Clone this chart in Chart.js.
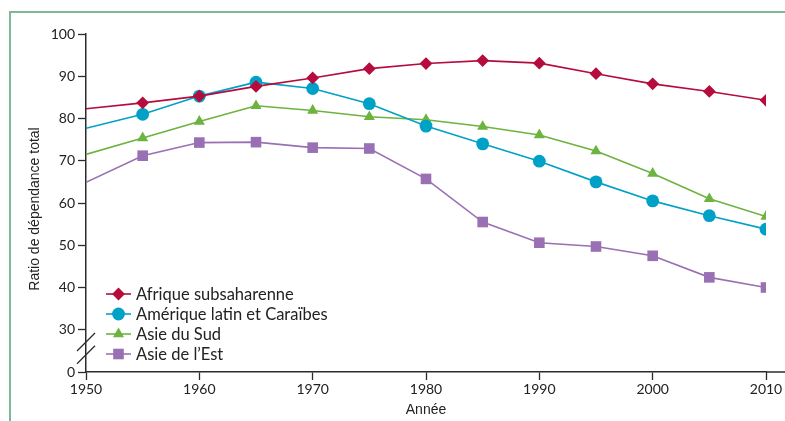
<!DOCTYPE html>
<html>
<head>
  <meta charset="utf-8">
  <script src="https://cdn.jsdelivr.net/npm/chart.js@4.4.1/dist/chart.umd.min.js"></script>
  <style>
    body { margin: 0; background: #fff; }
    #wrap { position: relative; width: 785px; height: 421px; }
    #frame { position: absolute; left: 9px; top: 11px; right: 0; bottom: 0;
             border-top: 2px solid #7db999; border-left: 2px solid #7db999; }
    canvas { position: absolute; left: 0; top: 0; }
  </style>
</head>
<body>
<div id="wrap">
  <div id="frame"></div>
  <canvas id="ratio-chart" width="785" height="421"></canvas>
</div>
<script>
  var years = [1950, 1955, 1960, 1965, 1970, 1975, 1980, 1985, 1990, 1995, 2000, 2005, 2010];
  var afrique = [82.3, 83.7, 85.3, 87.6, 89.6, 91.8, 93.0, 93.7, 93.1, 90.6, 88.2, 86.4, 84.3];
  var amerique = [77.7, 81.0, 85.3, 88.6, 87.1, 83.5, 78.2, 74.0, 69.9, 65.0, 60.5, 57.0, 53.8];
  var asieSud = [71.5, 75.4, 79.3, 83.0, 81.9, 80.4, 79.7, 78.1, 76.1, 72.3, 67.0, 61.0, 56.8];
  var asieEst = [64.9, 71.2, 74.3, 74.4, 73.1, 72.9, 65.7, 55.5, 50.6, 49.7, 47.5, 42.4, 40.0];
  var yTicks = [20, 30, 40, 50, 60, 70, 80, 90, 100];
  var yTitle = 'Ratio de dépendance total';

  var axisColor = '#2b2b2b';

  function serie(label, values, color, style, radius) {
    return {
      label: label,
      data: years.map(function (y, i) { return { x: y, y: values[i] }; }),
      borderColor: color,
      backgroundColor: color,
      borderWidth: 1.6,
      tension: 0,
      pointStyle: style,
      pointRadius: function (c) { return c.dataIndex === 0 ? 0 : radius; },
      pointHoverRadius: radius,
      pointBorderWidth: 0
    };
  }

  // legend drawn inside the plot, line + marker like the series
  var legendInside = {
    id: 'legendInside',
    afterDraw: function (chart) {
      var ctx = chart.ctx, area = chart.chartArea;
      var x0 = area.left + 20, y0 = area.bottom - 78;
      ctx.save();
      ctx.font = '16.5px Lato';
      ctx.textBaseline = 'middle';
      chart.data.datasets.forEach(function (ds, i) {
        var y = y0 + i * 20;
        ctx.strokeStyle = ds.borderColor;
        ctx.fillStyle = ds.borderColor;
        ctx.lineWidth = 1.6;
        ctx.beginPath();
        ctx.moveTo(x0, y);
        ctx.lineTo(x0 + 25, y);
        ctx.stroke();
        Chart.helpers.drawPoint(ctx, { pointStyle: ds.pointStyle, rotation: 0,
          radius: ds.pointHoverRadius, borderWidth: 0 }, x0 + 12.5, y);
        ctx.fillStyle = '#222';
        ctx.fillText(ds.label, x0 + 30, y + 1);
      });
      ctx.restore();
    }
  };

  // axis break marks, y title, and x axis running to the edge
  var axisExtras = {
    id: 'axisExtras',
    afterDraw: function (chart) {
      var ctx = chart.ctx, ys = chart.scales.y, area = chart.chartArea;
      ctx.save();
      ctx.strokeStyle = axisColor;
      ctx.lineWidth = 1.3;
      [27.1, 24.1].forEach(function (v) {
        var cy = ys.getPixelForValue(v), cx = area.left;
        ctx.beginPath();
        ctx.moveTo(cx - 9, cy + 9);
        ctx.lineTo(cx + 9, cy - 9);
        ctx.stroke();
      });
      ctx.lineWidth = 1.5;
      ctx.beginPath();
      ctx.moveTo(area.right, area.bottom);
      ctx.lineTo(chart.width, area.bottom);
      ctx.stroke();

      ctx.translate(35, (area.top + area.bottom) / 2 + 6);
      ctx.rotate(-Math.PI / 2);
      ctx.font = '14px "Liberation Sans"';
      ctx.fillStyle = '#222';
      ctx.textAlign = 'center';
      ctx.textBaseline = 'middle';
      ctx.fillText(yTitle, 0, 0);
      ctx.restore();
    }
  };

  new Chart(document.getElementById('ratio-chart'), {
    type: 'line',
    data: {
      datasets: [
        serie('Afrique subsaharenne', afrique, '#b50b3d', 'rectRot', 6.4),
        serie('Amérique latin et Caraïbes', amerique, '#00a1c7', 'circle', 6.4),
        serie('Asie du Sud', asieSud, '#6cb33f', 'triangle', 6.4),
        serie('Asie de l\u2019Est', asieEst, '#9970b4', 'rect', 7.5)
      ]
    },
    options: {
      responsive: false,
      animation: false,
      layout: { padding: { left: 0, top: 34, right: 19, bottom: 0 } },
      plugins: { legend: { display: false }, tooltip: { enabled: false } },
      scales: {
        x: {
          type: 'linear',
          min: 1950,
          max: 2010,
          afterFit: function (s) { s.height = 49; },
          ticks: { stepSize: 10, color: '#222', padding: 1,
            font: { family: 'Lato', size: 14 },
            callback: function (v) { return String(v); } },
          grid: { drawOnChartArea: false, tickLength: 8, color: axisColor, tickWidth: 1.3 },
          border: { color: axisColor, width: 1.5 },
          title: { display: true, text: 'Année', color: '#222',
            font: { family: 'Liberation Sans', size: 14 }, padding: { top: 0, bottom: 2 } }
        },
        y: {
          min: 20,
          max: 100,
          afterFit: function (s) { s.width = 86; },
          afterBuildTicks: function (s) { s.ticks = yTicks.map(function (v) { return { value: v }; }); },
          ticks: { color: '#222', padding: 3,
            font: { family: 'Lato', size: 14 },
            callback: function (v) { return v === 20 ? '0' : String(v); } },
          grid: { drawOnChartArea: false, tickLength: 8, color: axisColor, tickWidth: 1.3 },
          border: { color: axisColor, width: 1.5 }
        }
      }
    },
    plugins: [legendInside, axisExtras]
  });
</script>
</body>
</html>
